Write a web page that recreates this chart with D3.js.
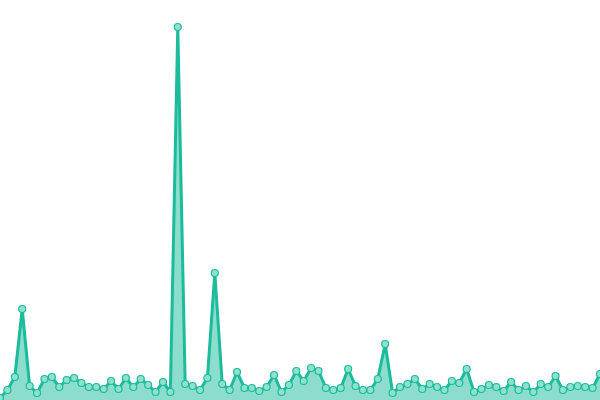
<!DOCTYPE html>
<html>
<head>
<meta charset="utf-8">
<script src="https://cdn.jsdelivr.net/npm/d3@7"></script>
<style>
  html, body { margin: 0; padding: 0; background: #fff; }
  svg { display: block; }
</style>
</head>
<body>
<div id="chart"></div>
<script>
// data values, one per point
const values = [
  2, 10, 23, 91, 14, 7, 21, 23, 13, 20,
  22, 17, 13, 13, 11, 19, 11, 22, 13, 21,
  15, 8, 18, 8, 373, 16, 14, 10, 22, 127,
  16, 10, 28, 12, 12, 9, 13, 25, 8, 15,
  29, 19, 32, 29, 12, 10, 12, 31, 14, 10,
  10, 21, 56, 7, 13, 16, 21, 11, 16, 13,
  10, 19, 17, 31, 8, 11, 15, 13, 9, 18,
  10, 14, 8, 16, 13, 24, 10, 13, 14, 13,
  12, 26
];
const indexes = values.map((d, i) => i);

const svgWidth = 600;
const svgHeight = 400;
const margin = { top: 27, right: 0, bottom: 0, left: 0 };
const width = svgWidth - margin.left - margin.right;
const height = svgHeight - margin.top - margin.bottom;

const svg = d3.select("#chart")
  .append("svg")
  .attr("width", svgWidth)
  .attr("height", svgHeight);

const chartGroup = svg.append("g")
  .attr("transform", `translate(${margin.left},${margin.top})`);

const xScale = d3.scaleLinear()
  .domain([0, values.length - 1])
  .range([0, width]);

const yScale = d3.scaleLinear()
  .domain([0, d3.max(values)])
  .range([height, 0]);

const area = d3.area()
  .x(i => xScale(i))
  .y0(height)
  .y1(i => yScale(values[i]));

const line = d3.line()
  .x(i => xScale(i))
  .y(i => yScale(values[i]));

// filled area
chartGroup.append("path")
  .datum(indexes)
  .attr("d", area)
  .attr("fill", "#1abc9c")
  .attr("fill-opacity", 0.5);

// line on top
chartGroup.append("path")
  .datum(indexes)
  .attr("d", line)
  .attr("fill", "none")
  .attr("stroke", "#1abc9c")
  .attr("stroke-width", 3)
  .attr("stroke-linejoin", "round");

// points
chartGroup.selectAll("circle")
  .data(indexes)
  .enter()
  .append("circle")
  .attr("cx", i => xScale(i))
  .attr("cy", i => yScale(values[i]))
  .attr("r", 3.5)
  .attr("fill", "#8fe0cd")
  .attr("stroke", "#1abc9c")
  .attr("stroke-width", 1.2);
</script>
</body>
</html>
